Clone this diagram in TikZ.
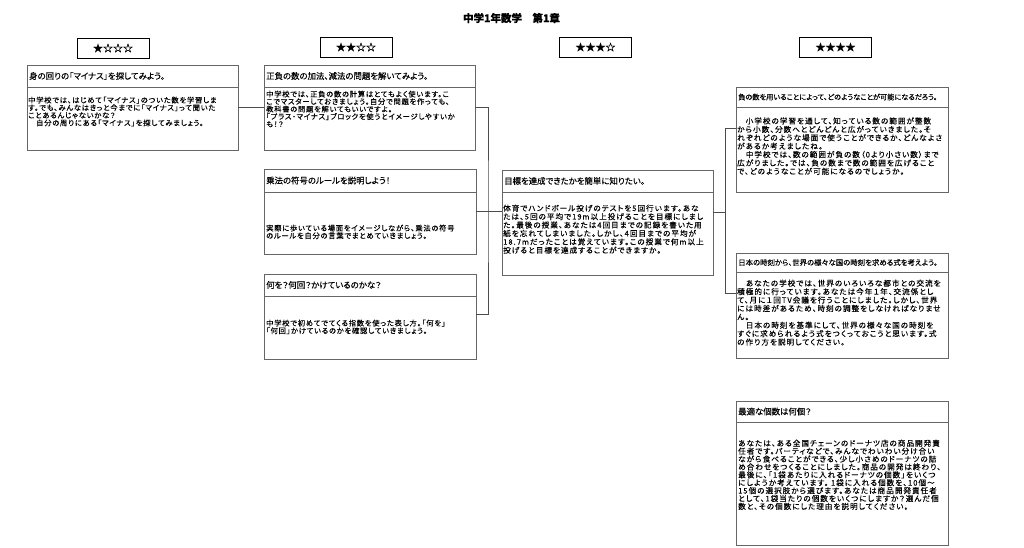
\documentclass[tikz,border=0pt]{standalone}
\usepackage{fontspec}
\setmainfont[RawFeature=+palt, FakeBold=0.25]{Noto Sans CJK JP}
\newfontfamily\bodyfontL[RawFeature=+palt, FakeBold=0.25, LetterSpace=10]{Noto Sans CJK JP}
\newfontfamily\bodyfontR[RawFeature=+palt, FakeBold=0.25, LetterSpace=13]{Noto Sans CJK JP}
\newcommand\mytightlines{\lineskiplimit-20pt\relax}
\begin{document}
\begin{tikzpicture}[x=1pt,y=-1pt,
  panel/.style={draw=black!60, line width=0.8pt, inner sep=0pt, outer sep=0pt, anchor=north west},
  starbox/.style={draw=black, line width=0.8pt, minimum width=72pt, minimum height=20pt, inner sep=0pt, font=\fontsize{10}{12}\selectfont},
  hdr/.style={anchor=west, inner sep=0pt, font=\fontsize{8.4}{8}\selectfont},
  smallhdr/.style={anchor=west, inner sep=0pt, font=\fontsize{7.2}{7}\selectfont},
  bodyL/.style={anchor=north west, inner sep=0pt, align=left, font=\bodyfontL\fontsize{7.3}{7.6}\selectfont\mytightlines},
  bodyL2/.style={anchor=north west, inner sep=0pt, align=left, font=\bodyfontL\fontsize{7.3}{7.5}\selectfont\mytightlines},
  bodyR/.style={anchor=north west, inner sep=0pt, align=left, font=\bodyfontR\fontsize{7.6}{8.4}\selectfont\mytightlines},
  bodyB/.style={anchor=north west, inner sep=0pt, align=left, font=\bodyfontR\fontsize{7.6}{7.9}\selectfont\mytightlines},
  link/.style={draw=black!70, line width=0.6pt},
  divider/.style={draw=black!60, line width=0.8pt}
]
\useasboundingbox (0,0) rectangle (1024,547);

% title
\node[font=\fontsize{10.5}{12}\selectfont\bfseries] (title) at (511.5,18) {中学1年数学　第1章};

% star boxes
\node[starbox] (s1) at (113,48) {★☆☆☆};
\node[starbox] (s2) at (356,47) {★★☆☆};
\node[starbox] (s3) at (595.5,47) {★★★☆};
\node[starbox] (s4) at (835.5,47) {★★★★};

% panels
\node[panel, minimum width=211pt, minimum height=85pt] (box1) at (27,65) {};
\node[panel, minimum width=211pt, minimum height=85pt] (box2) at (264,65) {};
\node[panel, minimum width=212pt, minimum height=85pt] (box3) at (264,169) {};
\node[panel, minimum width=212pt, minimum height=85pt] (box4) at (264,274) {};
\node[panel, minimum width=211pt, minimum height=105pt] (box5) at (502,170) {};
\node[panel, minimum width=212pt, minimum height=105pt] (box6) at (736,87) {};
\node[panel, minimum width=212pt, minimum height=105pt] (box7) at (736,253) {};
\node[panel, minimum width=212pt, minimum height=144pt] (box8) at (736,401) {};

% dividers
\draw[divider] ([yshift=-22pt]box1.north west) -- ([yshift=-22pt]box1.north east);
\draw[divider] ([yshift=-22pt]box2.north west) -- ([yshift=-22pt]box2.north east);
\draw[divider] ([yshift=-23pt]box3.north west) -- ([yshift=-23pt]box3.north east);
\draw[divider] ([yshift=-22pt]box4.north west) -- ([yshift=-22pt]box4.north east);
\draw[divider] ([yshift=-22pt]box5.north west) -- ([yshift=-22pt]box5.north east);
\draw[divider] ([yshift=-20pt]box6.north west) -- ([yshift=-20pt]box6.north east);
\draw[divider] ([yshift=-19pt]box7.north west) -- ([yshift=-19pt]box7.north east);
\draw[divider] ([yshift=-21pt]box8.north west) -- ([yshift=-21pt]box8.north east);

% headers
\node[hdr] (h1) at (29,76) {身の回りの「マイナス」を探してみよう。};
\node[hdr] (h2) at (266,76) {正負の数の加法、減法の問題を解いてみよう。};
\node[hdr] (h3) at (266,180.5) {乗法の符号のルールを説明しよう！};
\node[hdr] (h4) at (266,285) {何を？何回？かけているのかな？};
\node[hdr] (h5) at (504,181) {目標を達成できたかを簡単に知りたい。};
\node[smallhdr] (h6) at (738,97) {負の数を用いることによって、どのようなことが可能になるだろう。};
\node[smallhdr, font=\fontsize{7.4}{7}\selectfont] (h7) at (738,262.5) {日本の時刻から、世界の様々な国の時刻を求める式を考えよう。};
\node[hdr] (h8) at (738,411.5) {最適な個数は何個？};

% bodies
\node[bodyL] (b1) at (28,96.5) {中学校では、はじめて「マイナス」のついた数を学習しま\\す。でも、みんなはきっと今までに「マイナス」って聞いた\\ことあるんじゃないかな？\\　自分の周りにある「マイナス」を探してみましょう。};
\node[bodyL2] (b2) at (266,90.5) {中学校では、正負の数の計算はとてもよく使います。こ\\こでマスターしておきましょう。自分で問題を作っても、\\教科書の問題を解いてもいいですよ。\\「プラス・マイナス」ブロックを使うとイメージしやすいか\\も！？};
\node[bodyL] (b3) at (266,224.5) {実際に歩いている場面をイメージしながら、乗法の符号\\のルールを自分の言葉でまとめていきましょう。};
\node[bodyL] (b4) at (266,319.5) {中学校で初めてでてくる指数を使った表し方。「何を」\\「何回」かけているのかを確認していきましょう。};
\node[bodyR] (b5) at (503,204.5) {体育でハンドボール投げのテストを5回行います。あな\\たは、5回の平均で19m以上投げることを目標にしまし\\た。最後の授業、あなたは4回目までの記録を書いた用\\紙を忘れてしまいました。しかし、4回目までの平均が\\18.7mだったことは覚えています。この授業で何m以上\\投げると目標を達成することができますか。};
\node[bodyR] (b6) at (737,117.2) {　小学校の学習を通して、知っている数の範囲が整数\\から小数、分数へとどんどんと広がっていきました。そ\\れぞれどのような場面で使うことができるか、どんなよさ\\があるか考えましたね。\\　中学校では、数の範囲が負の数（0より小さい数）まで\\広がりました。では、負の数まで数の範囲を広げること\\で、どのようなことが可能になるのでしょうか。};
\node[bodyR] (b7) at (737,279.5) {　あなたの学校では、世界のいろいろな都市との交流を\\積極的に行っています。あなたは今年１年、交流係とし\\て、月に１回TV会議を行うことにしました。しかし、世界\\には時差があるため、時刻の調整をしなければなりませ\\ん。\\　日本の時刻を基準にして、世界の様々な国の時刻を\\すぐに求められるよう式をつくっておこうと思います。式\\の作り方を説明してください。};
\node[bodyB] (b8) at (738,439.5) {あなたは、ある全国チェーンのドーナツ店の商品開発責\\任者です。パーティなどで、みんなでわいわい分け合い\\ながら食べることができる、少し小さめのドーナツの詰\\め合わせをつくることにしました。商品の開発は終わり、\\最後に、「1袋あたりに入れるドーナツの個数」をいくつ\\にしようか考えています。 1袋に入れる個数を、10個～\\15個の選択肢から選びます。あなたは商品開発責任者\\として、1袋当たりの個数をいくつにしますか？選んだ個\\数と、その個数にした理由を説明してください。};

% connectors
\coordinate (j1) at (488,212);
\coordinate (j2) at (725,212);
\draw[link] (box1.east) -- (box2.west);
\draw[link] (box2.east) -| (j1) |- ([yshift=2.5pt]box4.east);
\draw[link] (box3.east) -- (box5.west |- box3.east);
\draw[link] (box5.east |- j2) -- (j2);
\draw[link] ([yshift=-41pt]box6.north west) -| (j2) |- ([yshift=-40pt]box7.north west);
\end{tikzpicture}
\end{document}
